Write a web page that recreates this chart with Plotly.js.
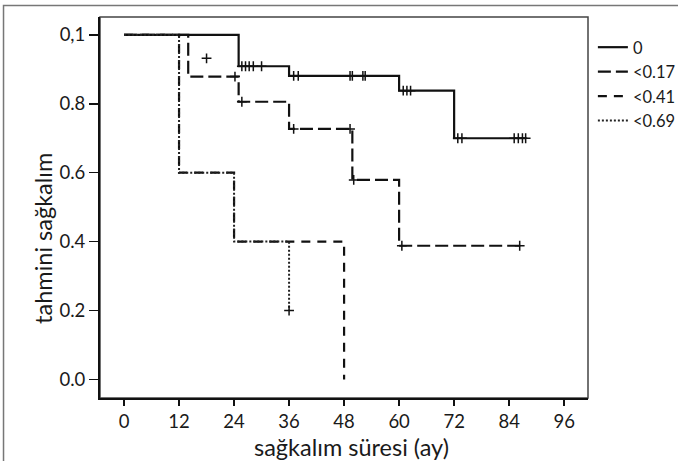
<!DOCTYPE html>
<html>
<head>
<meta charset="utf-8">
<script src="https://cdn.plot.ly/plotly-3.0.1.min.js"></script>
<style>html,body{margin:0;padding:0;background:#fff;}#chart{width:678px;height:461px;}</style>
</head>
<body>
<div id="chart"></div>
<script>
// Group names
const groups = ["0", "<0.17", "<0.41", "<0.69"];

// Step curves (event times in months, survival estimates)
const timeG0 = [0, 25, 36, 60, 72, 87.7];
const survG0 = [1.0, 0.909, 0.881, 0.838, 0.70, 0.70];
const timeG1 = [0, 14, 25, 36, 49.8, 60, 86.8];
const survG1 = [1.0, 0.879, 0.806, 0.727, 0.579, 0.388, 0.388];
const timeG2 = [0, 12, 24, 48];
const survG2 = [1.0, 0.60, 0.40, 0.0];
const timeG3 = [0, 12, 24, 36];
const survG3 = [1.0, 0.60, 0.40, 0.20];

// Censored observations
const censTimeG0 = [25.7, 26.5, 27.3, 28.2, 30.0, 37.0, 38.0, 49.3, 49.8, 52.1, 52.6, 60.9, 61.7, 62.5, 72.8, 73.7, 85.1, 86.0, 86.9, 87.6];
const censSurvG0 = [0.909, 0.909, 0.909, 0.909, 0.909, 0.881, 0.881, 0.881, 0.881, 0.881, 0.881, 0.838, 0.838, 0.838, 0.70, 0.70, 0.70, 0.70, 0.70, 0.70];
const censTimeG1 = [18, 24.2, 25.7, 37.0, 49.3, 50.1, 60.6, 86.3];
const censSurvG1 = [0.932, 0.879, 0.806, 0.727, 0.727, 0.579, 0.388, 0.388];
const censTimeG3 = [36];
const censSurvG3 = [0.20];

// Axis ticks and titles
const xTickVals = [0, 12, 24, 36, 48, 60, 72, 84, 96];
const yTickVals = [0, 0.2, 0.4, 0.6, 0.8, 1.0];
const yTickText = ["0.0", "0.2", "0.4", "0.6", "0.8", "0,1"];
const xTitle = "sağkalım süresi (ay)";
const yTitle = "tahmini sağkalım";

const FONT = "Lato, 'Open Sans', sans-serif";
const INK = "#1a1a1a";

function stepTrace(x, y, name, dash, color, width) {
  return {
    type: "scatter", mode: "lines", x: x, y: y, name: name,
    legendgroup: name,
    line: {shape: "hv", color: color, width: width, dash: dash},
    hoverinfo: "skip"
  };
}
function censTrace(x, y, name, color) {
  return {
    type: "scatter", mode: "markers", x: x, y: y, name: name,
    legendgroup: name, showlegend: false,
    marker: {symbol: "cross-thin-open", size: 7, color: color, line: {color: color, width: 1.5}},
    hoverinfo: "skip"
  };
}

const data = [
  stepTrace(timeG0, survG0, groups[0], "solid", "#111", 2.2),
  stepTrace(timeG1, survG1, groups[1], "13px,5px", "#111", 2.2),
  stepTrace(timeG2, survG2, groups[2], "9px,7px", "#111", 2.2),
  stepTrace(timeG3, survG3, groups[3], "2px,2px", "#222", 2),
  censTrace(censTimeG0, censSurvG0, groups[0], "#111"),
  censTrace(censTimeG1, censSurvG1, groups[1], "#111"),
  censTrace(censTimeG3, censSurvG3, groups[3], "#111")
];

const layout = {
  width: 678, height: 461,
  margin: {l: 100, r: 90, t: 17, b: 63, autoexpand: false},
  paper_bgcolor: "#fff", plot_bgcolor: "#fff",
  font: {family: FONT, color: INK, size: 17},
  showlegend: true,
  legend: {
    x: 1.01, xanchor: "left", y: 0.966, yanchor: "top",
    traceorder: "grouped", tracegroupgap: 0,
    itemwidth: 30,
    font: {family: FONT, size: 16.5, color: INK},
    bgcolor: "rgba(0,0,0,0)", borderwidth: 0
  },
  xaxis: {
    range: [-5.24, 101.2], tickvals: xTickVals, ticks: "outside", ticklen: 6, tickwidth: 2, tickcolor: "#111",
    showline: true, linecolor: "#111", linewidth: 2, showgrid: false, zeroline: false,
    tickfont: {family: FONT, size: 18.5, color: INK}
  },
  yaxis: {
    range: [-0.054, 1.052], tickvals: yTickVals, ticktext: yTickText, ticks: "outside", ticklen: 9, tickwidth: 1.5, tickcolor: "#111",
    showline: true, linecolor: "#111", linewidth: 2, showgrid: false, zeroline: false,
    tickfont: {family: FONT, size: 18.5, color: INK}
  },
  annotations: [
    {text: xTitle, xref: "paper", yref: "paper", x: 0.515, y: -0.1286, xanchor: "center", yanchor: "middle",
     showarrow: false, font: {family: FONT, size: 23.5, color: INK}},
    {text: yTitle, xref: "paper", yref: "paper", x: -0.117, y: 0.42, xanchor: "center", yanchor: "middle",
     textangle: -90, showarrow: false, font: {family: FONT, size: 23.5, color: INK}}
  ],
  shapes: [
    {type: "rect", xref: "paper", yref: "paper", x0: 0, x1: 1, y0: 0, y1: 1, layer: "below",
     line: {color: "#444", width: 1.5}},
    {type: "rect", xref: "paper", yref: "paper", x0: -0.1977, x1: 2, y0: -1, y1: 1.0302, layer: "below",
     line: {color: "#777", width: 1.5}}
  ]
};

Plotly.newPlot("chart", data, layout, {displayModeBar: false, staticPlot: true});
</script>
</body>
</html>
